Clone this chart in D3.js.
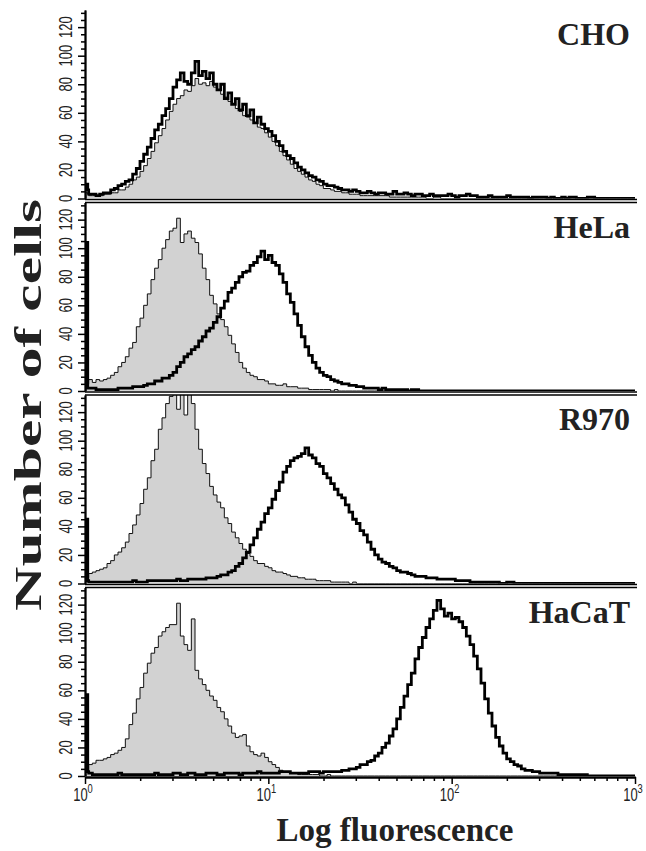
<!DOCTYPE html>
<html>
<head>
<meta charset="utf-8">
<script src="https://cdn.jsdelivr.net/npm/d3@7"></script>
<style>
  body { margin: 0; background: #fff; }
  svg { display: block; }
</style>
</head>
<body>
<svg id="chart"></svg>
<script>
// channel grid: log10(fluorescence) at the start of each bin, 0.02 decade per bin
const BIN_WIDTH = 0.02
const logBins = d3.range(0, 3, BIN_WIDTH)

const panelNames = ["CHO", "HeLa", "R970", "HaCaT"]

// counts in the very first channel (debris spike at the axis)
const controlSpike = [4, 40, 30, 30]
const antibodySpike = [10, 104, 45, 57]

// grey filled histograms (control) and thick line histograms (antibody), 150 bins each
const choControl = [
  3, 2, 2, 2, 2, 3, 3, 4, 4, 6, 6, 8, 10, 13, 15, 19, 23, 28, 33, 39,
  44, 49, 55, 61, 66, 70, 72, 76, 75, 79, 84, 80, 81, 79, 82, 78, 76, 73, 71, 68,
  66, 63, 61, 58, 57, 55, 53, 50, 49, 46, 43, 40, 37, 33, 30, 27, 24, 21, 19, 17,
  15, 13, 12, 10, 9, 7, 7, 6, 5, 5, 4, 4, 3, 3, 3, 2, 2, 2, 2, 2,
  2, 2, 2, 1, 1, 1, 1, 1, 1, 1, 1, 1, 1, 0, 0, 1, 1, 0, 0, 0,
  0, 0, 0, 0, 0, 0, 0, 0, 0, 0, 0, 0, 0, 0, 0, 0, 0, 0, 0, 0,
  0, 0, 0, 0, 0, 0, 0, 0, 0, 0, 0, 0, 0, 0, 0, 0, 0, 0, 0, 0,
  0, 0, 0, 0, 0, 0, 0, 0, 0, 0]
const choAntibody = [
  6, 3, 3, 2, 3, 4, 4, 6, 7, 9, 10, 12, 13, 17, 21, 26, 31, 36, 42, 48,
  52, 58, 63, 70, 78, 83, 88, 82, 80, 88, 96, 86, 89, 84, 88, 80, 76, 80, 70, 74,
  66, 70, 62, 66, 58, 62, 53, 57, 52, 49, 47, 44, 40, 37, 33, 30, 28, 25, 22, 20,
  18, 16, 15, 13, 12, 10, 9, 9, 8, 7, 6, 6, 5, 6, 5, 4, 4, 5, 4, 3,
  4, 4, 3, 3, 5, 3, 3, 4, 3, 2, 3, 3, 2, 2, 3, 2, 2, 2, 2, 3,
  2, 1, 2, 2, 3, 2, 2, 1, 1, 1, 2, 1, 1, 1, 1, 2, 1, 1, 1, 1,
  1, 0, 1, 1, 1, 1, 0, 1, 0, 0, 1, 0, 1, 1, 0, 0, 0, 1, 1, 0,
  0, 0, 0, 0, 0, 0, 0, 0, 0, 0]

const helaControl = [
  5, 8, 6, 8, 7, 8, 9, 11, 13, 17, 20, 24, 30, 34, 45, 51, 60, 68, 78, 86,
  92, 100, 106, 112, 114, 121, 104, 110, 112, 107, 104, 96, 86, 78, 67, 61, 54, 50, 45, 39,
  33, 27, 20, 16, 13, 11, 10, 8, 8, 7, 5, 5, 4, 4, 5, 3, 3, 3, 2, 2,
  2, 1, 1, 1, 1, 1, 1, 0, 1, 0, 0, 0, 0, 0, 0, 0, 0, 0, 0, 0,
  0, 0, 0, 0, 0, 0, 0, 0, 0, 0, 0, 0, 0, 0, 0, 0, 0, 0, 0, 0,
  0, 0, 0, 0, 0, 0, 0, 0, 0, 0, 0, 0, 0, 0, 0, 0, 0, 0, 0, 0,
  0, 0, 0, 0, 0, 0, 0, 0, 0, 0, 0, 0, 0, 0, 0, 0, 0, 0, 0, 0,
  0, 0, 0, 0, 0, 0, 0, 0, 0, 0]
const helaAntibody = [
  2, 2, 2, 1, 1, 1, 1, 1, 1, 2, 2, 2, 2, 3, 3, 3, 4, 5, 5, 7,
  7, 9, 9, 11, 13, 17, 20, 24, 26, 29, 31, 35, 38, 42, 44, 48, 52, 58, 63, 69,
  72, 76, 80, 83, 84, 88, 90, 94, 98, 92, 95, 90, 88, 82, 76, 68, 62, 54, 46, 38,
  31, 25, 20, 16, 13, 11, 10, 8, 7, 6, 5, 5, 4, 4, 3, 3, 2, 2, 2, 2,
  1, 2, 1, 1, 1, 1, 1, 1, 0, 1, 1, 0, 0, 0, 0, 0, 0, 0, 0, 0,
  0, 0, 0, 0, 0, 0, 0, 0, 0, 0, 0, 0, 0, 0, 0, 0, 0, 0, 0, 0,
  0, 0, 0, 0, 0, 0, 0, 0, 0, 0, 0, 0, 0, 0, 0, 0, 0, 0, 0, 0,
  0, 0, 0, 0, 0, 0, 0, 0, 0, 0]

const r970Control = [
  4, 7, 8, 9, 10, 11, 14, 16, 20, 22, 25, 29, 35, 41, 48, 56, 66, 74, 86, 94,
  108, 116, 126, 131, 138, 122, 134, 118, 136, 126, 108, 94, 84, 77, 68, 62, 57, 53, 46, 42,
  36, 32, 28, 24, 21, 19, 16, 14, 14, 12, 11, 9, 8, 8, 7, 6, 5, 5, 4, 4,
  3, 3, 3, 2, 2, 2, 2, 1, 1, 1, 1, 1, 0, 1, 0, 0, 0, 0, 0, 0,
  0, 0, 0, 0, 0, 0, 0, 0, 0, 0, 0, 0, 0, 0, 0, 0, 0, 0, 0, 0,
  0, 0, 0, 0, 0, 0, 0, 0, 0, 0, 0, 0, 0, 0, 0, 0, 0, 0, 0, 0,
  0, 0, 0, 0, 0, 0, 0, 0, 0, 0, 0, 0, 0, 0, 0, 0, 0, 0, 0, 0,
  0, 0, 0, 0, 0, 0, 0, 0, 0, 0]
const r970Antibody = [
  2, 1, 1, 1, 1, 1, 1, 1, 1, 1, 1, 1, 1, 2, 1, 1, 1, 2, 2, 2,
  2, 2, 2, 2, 2, 3, 2, 2, 3, 3, 3, 3, 3, 4, 4, 4, 5, 6, 6, 8,
  9, 12, 14, 18, 22, 27, 32, 38, 43, 49, 53, 59, 65, 71, 78, 82, 86, 88, 89, 91,
  95, 90, 88, 84, 82, 77, 74, 70, 66, 62, 60, 55, 50, 45, 42, 37, 34, 29, 24, 20,
  17, 15, 14, 12, 11, 9, 8, 8, 7, 6, 5, 5, 5, 4, 4, 4, 3, 3, 3, 3,
  3, 2, 2, 2, 2, 1, 1, 1, 1, 1, 1, 1, 1, 0, 0, 1, 1, 0, 0, 0,
  0, 0, 0, 0, 0, 0, 0, 0, 0, 0, 0, 0, 0, 0, 0, 0, 0, 0, 0, 0,
  0, 0, 0, 0, 0, 0, 0, 0, 0, 0]

const hacatControl = [
  4, 8, 9, 11, 11, 12, 13, 15, 16, 18, 20, 26, 36, 44, 54, 62, 72, 79, 86, 90,
  98, 101, 104, 106, 106, 121, 98, 92, 88, 110, 74, 68, 64, 60, 56, 53, 48, 45, 40, 35,
  30, 27, 28, 29, 21, 17, 15, 14, 16, 13, 10, 8, 6, 4, 3, 3, 2, 2, 1, 1,
  1, 1, 1, 1, 0, 0, 1, 0, 0, 0, 0, 0, 0, 0, 0, 0, 0, 0, 0, 0,
  0, 0, 0, 0, 0, 0, 0, 0, 0, 0, 0, 0, 0, 0, 0, 0, 0, 0, 0, 0,
  0, 0, 0, 0, 0, 0, 0, 0, 0, 0, 0, 0, 0, 0, 0, 0, 0, 0, 0, 0,
  0, 0, 0, 0, 0, 0, 0, 0, 0, 0, 0, 0, 0, 0, 0, 0, 0, 0, 0, 0,
  0, 0, 0, 0, 0, 0, 0, 0, 0, 0]
const hacatAntibody = [
  3, 2, 1, 1, 1, 1, 1, 1, 1, 2, 1, 1, 1, 1, 1, 1, 1, 1, 1, 2,
  1, 1, 1, 1, 2, 2, 1, 1, 2, 2, 1, 1, 1, 2, 2, 2, 1, 1, 2, 2,
  2, 2, 1, 2, 2, 2, 2, 3, 2, 2, 2, 2, 2, 3, 3, 3, 2, 2, 2, 2,
  2, 3, 3, 3, 2, 3, 3, 3, 3, 3, 4, 4, 5, 5, 6, 8, 8, 10, 11, 14,
  16, 20, 23, 28, 33, 40, 48, 56, 64, 72, 82, 90, 97, 104, 110, 116, 123, 117, 112, 114,
  110, 111, 108, 104, 98, 92, 84, 75, 65, 54, 44, 35, 27, 21, 16, 12, 10, 8, 7, 5,
  4, 4, 3, 3, 2, 2, 2, 2, 2, 1, 1, 1, 1, 1, 1, 1, 1, 0, 0, 0,
  0, 0, 0, 0, 0, 0, 0, 0, 0, 0]

const controls = [choControl, helaControl, r970Control, hacatControl]
const antibodies = [choAntibody, helaAntibody, r970Antibody, hacatAntibody]

const yTicks = [0, 20, 40, 60, 80, 100, 120]
const yMinorTicks = [5, 10, 15, 25, 30, 35, 45, 50, 55, 65, 70, 75, 85, 90, 95, 105, 110, 115, 125, 130]
const xTicks = [1, 10, 100, 1000]
const xTickExponents = ["0", "1", "2", "3"]
const xMinorTicks = [2, 3, 4, 5, 6, 7, 8, 9, 20, 30, 40, 50, 60, 70, 80, 90, 200, 300, 400, 500, 600, 700, 800, 900]

// layout
const W = 646, H = 851
const plotLeft = 85, plotRight = 635
const plotTop = 10, plotBottom = 776, gap = 4
const panelH = (plotBottom - plotTop - 3 * gap) / 4
const yMax = 132
const spikeWidth = 0.015

const svg = d3.select("#chart").attr("width", W).attr("height", H)
svg.append("rect").attr("width", W).attr("height", H).attr("fill", "#fff")

const xScale = d3.scaleLog().domain([1, 1000]).range([plotLeft, plotRight])

const histPoints = (spike, counts) => {
    const pts = [{l: 0, v: 0}, {l: 0, v: spike}]
    counts.forEach((v, i) => pts.push({l: i === 0 ? spikeWidth : logBins[i], v: v}))
    pts.push({l: 3, v: counts[counts.length - 1]})
    return pts
}

const tickFont = "'Liberation Sans', Arial, sans-serif"
const serif = "'Liberation Serif', 'Times New Roman', serif"

panelNames.forEach((name, p) => {
    const top = plotTop + p * (panelH + gap)
    const bottom = top + panelH
    const yScale = d3.scaleLinear().domain([0, yMax]).range([bottom, top])

    const g = svg.append("g")

    g.append("clipPath").attr("id", "clip" + p)
        .append("rect")
        .attr("x", plotLeft).attr("y", top)
        .attr("width", plotRight - plotLeft + 4).attr("height", panelH)

    const plot = g.append("g").attr("clip-path", `url(#clip${p})`)

    const area = d3.area()
        .curve(d3.curveStepAfter)
        .x(d => xScale(Math.pow(10, d.l)))
        .y0(yScale(0))
        .y1(d => yScale(d.v))
    const line = d3.line()
        .curve(d3.curveStepAfter)
        .x(d => xScale(Math.pow(10, d.l)))
        .y(d => yScale(d.v))

    const ctrl = histPoints(controlSpike[p], controls[p])
    const ab = histPoints(antibodySpike[p], antibodies[p])

    plot.append("path").attr("d", area(ctrl)).attr("fill", "#d2d2d2")
    plot.append("path").attr("d", line(ctrl))
        .attr("fill", "none").attr("stroke", "#111").attr("stroke-width", 1)
    plot.append("path").attr("d", line(ab))
        .attr("fill", "none").attr("stroke", "#000").attr("stroke-width", 2.8)

    // frame lines
    if (p > 0) {
        g.append("line")
            .attr("x1", plotLeft).attr("x2", plotRight + 2)
            .attr("y1", top).attr("y2", top)
            .attr("stroke", "#000").attr("stroke-width", 1.6)
    }
    if (p < 3) {
        g.append("line")
            .attr("x1", plotLeft).attr("x2", plotRight + 2)
            .attr("y1", bottom + 1).attr("y2", bottom + 1)
            .attr("stroke", "#000").attr("stroke-width", 1.4)
    }

    // left axis
    const minorAxis = d3.axisLeft(yScale).tickValues(yMinorTicks).tickSize(4).tickSizeOuter(0).tickFormat("")
    const majorAxis = d3.axisLeft(yScale).tickValues(yTicks).tickSize(7).tickSizeOuter(0).tickFormat("")
    const ax = g.append("g").attr("transform", `translate(${plotLeft},0)`)
    ax.call(minorAxis)
    ax.append("g").call(majorAxis)
    ax.selectAll("path.domain").attr("stroke", "#000").attr("stroke-width", 1.8)
    ax.selectAll(".tick line").attr("stroke", "#000").attr("stroke-width", 1.5)

    g.selectAll(".ylab")
        .data(yTicks)
        .join("text")
        .attr("class", "ylab")
        .attr("transform", d => `translate(72,${yScale(d)}) rotate(-90) scale(0.72,1)`)
        .attr("text-anchor", "middle")
        .attr("font-family", tickFont)
        .attr("font-size", 18)
        .attr("fill", "#222")
        .text(d => d)

    g.append("text")
        .attr("x", 630).attr("y", top + 35)
        .attr("text-anchor", "end")
        .attr("font-family", serif)
        .attr("font-weight", "bold")
        .attr("font-size", 32)
        .attr("fill", "#222")
        .text(name)

    if (p === 3) {
        const xa = g.append("g").attr("transform", `translate(0,${bottom + 1})`)
        xa.call(d3.axisBottom(xScale).tickValues(xMinorTicks).tickSize(4).tickSizeOuter(0).tickFormat(""))
        xa.append("g").call(d3.axisBottom(xScale).tickValues(xTicks).tickSize(7).tickSizeOuter(0).tickFormat(""))
        xa.selectAll("path.domain").attr("stroke", "#000").attr("stroke-width", 1.8)
        xa.selectAll(".tick line").attr("stroke", "#000").attr("stroke-width", 1.5)

        const labels = g.selectAll(".xlab")
            .data(xTicks)
            .join("text")
            .attr("class", "xlab")
            .attr("transform", d => `translate(${xScale(d) - 2},801) scale(0.72,1)`)
            .attr("text-anchor", "middle")
            .attr("font-family", tickFont)
            .attr("font-size", 18)
            .attr("fill", "#222")
        labels.append("tspan").text("10")
        labels.append("tspan")
            .attr("dy", -8)
            .attr("font-size", 13)
            .text((d, i) => xTickExponents[i])
    }
})

svg.append("text")
    .attr("x", 395).attr("y", 841)
    .attr("text-anchor", "middle")
    .attr("font-family", serif)
    .attr("font-weight", "bold")
    .attr("font-size", 33)
    .attr("fill", "#222")
    .text("Log fluorescence")

svg.append("text")
    .attr("transform", "translate(41,405) rotate(-90)")
    .attr("text-anchor", "middle")
    .attr("font-family", serif)
    .attr("font-weight", "bold")
    .attr("font-size", 38)
    .attr("textLength", 412)
    .attr("lengthAdjust", "spacingAndGlyphs")
    .attr("fill", "#222")
    .text("Number of cells")
</script>
</body>
</html>
